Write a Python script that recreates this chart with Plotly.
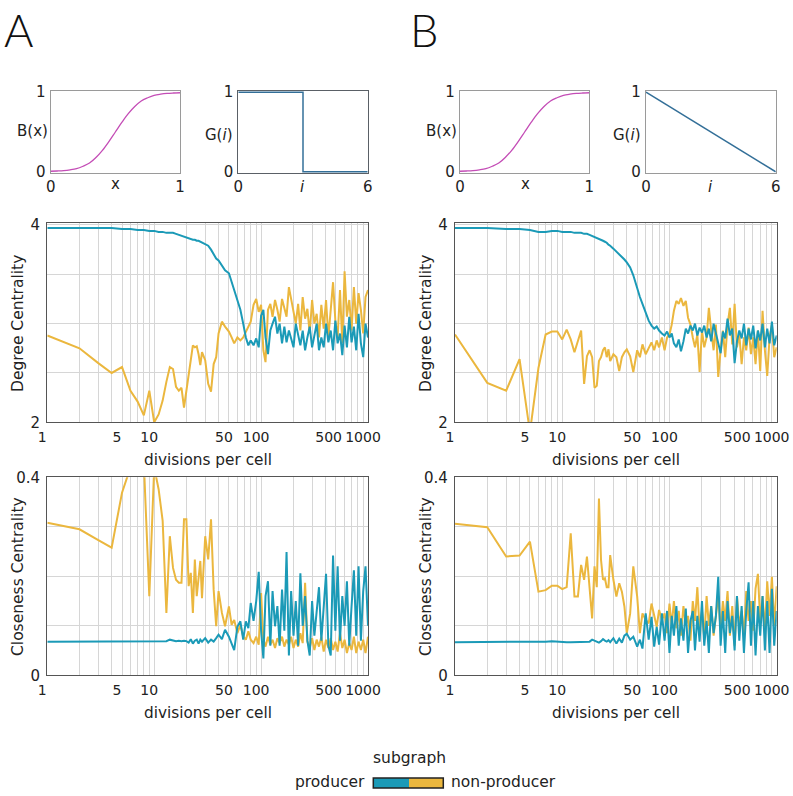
import plotly.graph_objects as go

# ------------------------------------------------------------------ data
divisions = [1, 2, 3, 4, 5, 6, 7, 8, 9, 10,
             11, 12, 13, 14, 15, 16, 17, 18, 19, 20,
             21, 22, 23, 24, 25, 26, 27, 28, 30, 32,
             34, 36, 38, 40, 43, 46, 50, 53, 56, 60,
             64, 68, 72, 76, 80, 85, 90, 95, 100, 105,
             110, 116, 122, 128, 135, 142, 149, 157, 165, 173,
             182, 191, 201, 211, 222, 233, 245, 258, 271, 285,
             300, 315, 331, 348, 366, 385, 405, 426, 448, 471,
             495, 520, 547, 575, 604, 635, 668, 702, 738, 776,
             816, 858, 902, 948, 1000]

# Panel A - degree centrality
degA_producer = [3.97, 3.97, 3.97, 3.97, 3.96, 3.96, 3.95, 3.95, 3.94, 3.94,
                 3.93, 3.93, 3.92, 3.92, 3.92, 3.91, 3.90, 3.89, 3.88, 3.87,
                 3.86, 3.86, 3.85, 3.85, 3.84, 3.84, 3.83, 3.82, 3.81, 3.79,
                 3.75, 3.71, 3.66, 3.64, 3.59, 3.54, 3.51, 3.42, 3.34, 3.22,
                 3.14, 3.00, 2.86, 2.78, 2.83, 2.78, 2.85, 2.76, 3.08, 3.14,
                 2.86, 2.69, 2.93, 3.00, 3.07, 2.90, 3.00, 2.80, 2.97, 2.81,
                 2.93, 2.85, 2.76, 3.00, 2.90, 2.78, 2.93, 2.73, 2.86, 2.97,
                 2.76, 2.90, 3.00, 2.73, 2.86, 2.76, 3.00, 2.81, 2.93, 2.73,
                 3.03, 2.80, 2.90, 2.68, 2.98, 2.76, 3.07, 2.81, 2.97, 2.73,
                 3.10, 2.80, 2.66, 3.00, 2.86]
degA_nonproducer = [2.88, 2.75, 2.60, 2.50, 2.56, 2.32, 2.21, 2.07, 2.32, 2.00,
                    2.08, 2.22, 2.41, 2.56, 2.54, 2.36, 2.32, 2.35, 2.15, 2.32,
                    2.49, 2.66, 2.78, 2.76, 2.77, 2.69, 2.58, 2.71, 2.63, 2.39,
                    2.31, 2.59, 2.66, 2.90, 3.02, 2.97, 2.92, 2.86, 2.80, 2.86,
                    2.83, 2.86, 2.92, 2.97, 3.02, 3.19, 3.25, 3.12, 3.19, 2.73,
                    2.61, 3.14, 3.20, 3.07, 3.24, 3.14, 3.02, 3.25, 3.17, 3.07,
                    3.37, 3.24, 3.10, 3.00, 3.20, 2.93, 3.27, 3.05, 3.15, 2.90,
                    3.24, 3.00, 3.10, 2.86, 3.19, 2.95, 3.24, 2.86, 3.14, 3.42,
                    3.03, 2.86, 3.34, 2.80, 3.53, 3.07, 3.24, 2.93, 3.37, 3.00,
                    3.31, 3.14, 2.90, 3.27, 3.34]

# Panel A - closeness centrality
cloA_producer = [0.068, 0.068, 0.068, 0.068, 0.068, 0.068, 0.068, 0.068, 0.068, 0.068,
                 0.069, 0.068, 0.069, 0.072, 0.070, 0.069, 0.070, 0.069, 0.070, 0.069,
                 0.066, 0.073, 0.064, 0.070, 0.072, 0.064, 0.072, 0.068, 0.075, 0.066,
                 0.072, 0.068, 0.075, 0.082, 0.073, 0.092, 0.078, 0.065, 0.051, 0.098,
                 0.109, 0.072, 0.109, 0.095, 0.146, 0.110, 0.150, 0.209, 0.090, 0.034,
                 0.160, 0.190, 0.060, 0.170, 0.099, 0.140, 0.060, 0.173, 0.090, 0.249,
                 0.040, 0.170, 0.080, 0.150, 0.060, 0.206, 0.100, 0.160, 0.070, 0.040,
                 0.150, 0.080, 0.130, 0.178, 0.070, 0.140, 0.205, 0.060, 0.040, 0.242,
                 0.090, 0.220, 0.070, 0.160, 0.100, 0.190, 0.060, 0.140, 0.212, 0.080,
                 0.220, 0.070, 0.170, 0.220, 0.100]
cloA_nonproducer = [0.308, 0.295, 0.273, 0.258, 0.369, 0.420, 0.450, 0.430, 0.160, 0.420,
                    0.376, 0.312, 0.126, 0.281, 0.217, 0.193, 0.187, 0.187, 0.315, 0.315,
                    0.180, 0.207, 0.126, 0.234, 0.160, 0.193, 0.231, 0.156, 0.281, 0.234,
                    0.315, 0.173, 0.099, 0.170, 0.126, 0.099, 0.139, 0.102, 0.112, 0.085,
                    0.102, 0.078, 0.072, 0.089, 0.072, 0.065, 0.078, 0.062, 0.166, 0.072,
                    0.058, 0.078, 0.062, 0.072, 0.055, 0.075, 0.065, 0.078, 0.058, 0.072,
                    0.062, 0.078, 0.055, 0.072, 0.058, 0.085, 0.065, 0.187, 0.068, 0.055,
                    0.075, 0.051, 0.072, 0.058, 0.078, 0.048, 0.072, 0.055, 0.075, 0.051,
                    0.068, 0.048, 0.085, 0.055, 0.072, 0.045, 0.065, 0.051, 0.078, 0.045,
                    0.068, 0.051, 0.072, 0.045, 0.078]

# Panel B - degree centrality
degB_producer = [3.97, 3.97, 3.96, 3.96, 3.95, 3.93, 3.93, 3.94, 3.94, 3.93,
                 3.93, 3.93, 3.92, 3.92, 3.92, 3.91, 3.91, 3.90, 3.89, 3.88,
                 3.87, 3.86, 3.85, 3.84, 3.83, 3.82, 3.80, 3.79, 3.76, 3.73,
                 3.71, 3.68, 3.65, 3.62, 3.57, 3.49, 3.35, 3.27, 3.20, 3.10,
                 3.03, 2.98, 2.95, 2.97, 2.93, 2.90, 2.88, 2.92, 2.86, 2.90,
                 2.80, 2.76, 2.84, 2.72, 2.82, 2.95, 2.90, 2.98, 2.93, 3.00,
                 2.88, 2.96, 2.91, 2.98, 2.86, 2.95, 2.82, 3.00, 2.90, 2.78,
                 2.70, 2.92, 2.85, 3.05, 2.88, 2.95, 2.60, 2.82, 2.93, 2.85,
                 3.00, 2.78, 2.95, 2.84, 2.98, 2.75, 2.93, 2.83, 3.00, 2.76,
                 2.95, 2.80, 3.02, 2.78, 2.88]
degB_nonproducer = [2.89, 2.40, 2.32, 2.64, 1.90, 2.55, 2.89, 2.92, 2.92, 2.84,
                    2.94, 2.84, 2.71, 2.83, 2.93, 2.39, 2.67, 2.73, 2.66, 2.35,
                    2.37, 2.62, 2.66, 2.73, 2.76, 2.66, 2.74, 2.62, 2.69, 2.66,
                    2.52, 2.66, 2.71, 2.74, 2.67, 2.51, 2.73, 2.66, 2.79, 2.69,
                    2.76, 2.81, 2.73, 2.83, 2.76, 2.86, 2.73, 2.86, 2.89, 2.99,
                    3.13, 3.23, 3.20, 3.26, 3.18, 3.23, 3.06, 2.99, 2.86, 2.76,
                    2.89, 2.51, 2.93, 2.76, 2.86, 3.16, 2.93, 2.73, 2.99, 2.46,
                    2.73, 2.93, 2.66, 2.99, 3.16, 2.79, 3.20, 2.76, 2.89, 2.59,
                    2.86, 2.73, 2.96, 2.69, 2.86, 2.59, 2.93, 2.52, 3.13, 2.73,
                    2.47, 2.86, 2.99, 2.66, 2.76]

# Panel B - closeness centrality
cloB_producer = [0.067, 0.067, 0.067, 0.067, 0.067, 0.067, 0.068, 0.069, 0.068, 0.067,
                 0.067, 0.067, 0.067, 0.067, 0.067, 0.067, 0.067, 0.068, 0.072, 0.070,
                 0.067, 0.066, 0.069, 0.073, 0.070, 0.068, 0.071, 0.067, 0.075, 0.064,
                 0.074, 0.066, 0.080, 0.084, 0.072, 0.078, 0.058, 0.072, 0.054, 0.125,
                 0.072, 0.118, 0.058, 0.098, 0.062, 0.125, 0.070, 0.130, 0.045, 0.120,
                 0.080, 0.140, 0.060, 0.115, 0.070, 0.135, 0.045, 0.110, 0.130, 0.050,
                 0.120, 0.068, 0.150, 0.060, 0.110, 0.045, 0.140, 0.085, 0.120, 0.199,
                 0.060, 0.130, 0.045, 0.150, 0.085, 0.120, 0.050, 0.160, 0.070, 0.140,
                 0.045, 0.130, 0.188, 0.060, 0.150, 0.040, 0.140, 0.080, 0.160, 0.050,
                 0.150, 0.045, 0.175, 0.060, 0.130]
cloB_nonproducer = [0.306, 0.299, 0.240, 0.242, 0.270, 0.169, 0.172, 0.181, 0.181, 0.174,
                    0.178, 0.287, 0.159, 0.159, 0.223, 0.193, 0.240, 0.169, 0.115, 0.220,
                    0.178, 0.357, 0.233, 0.193, 0.196, 0.178, 0.178, 0.243, 0.193, 0.159,
                    0.186, 0.169, 0.139, 0.085, 0.125, 0.220, 0.159, 0.085, 0.125, 0.112,
                    0.105, 0.145, 0.118, 0.098, 0.132, 0.112, 0.125, 0.085, 0.145, 0.100,
                    0.150, 0.095, 0.130, 0.080, 0.140, 0.100, 0.120, 0.070, 0.150, 0.110,
                    0.178, 0.090, 0.130, 0.075, 0.160, 0.100, 0.140, 0.080, 0.120, 0.160,
                    0.090, 0.150, 0.110, 0.170, 0.080, 0.140, 0.060, 0.160, 0.100, 0.130,
                    0.080, 0.170, 0.110, 0.150, 0.090, 0.175, 0.205, 0.110, 0.160, 0.090,
                    0.190, 0.120, 0.199, 0.100, 0.180]

# Benefit function B(x)
benefit_x = [0.0, 0.05, 0.1, 0.15, 0.2, 0.25, 0.3, 0.35, 0.4, 0.45, 0.5,
             0.55, 0.6, 0.65, 0.7, 0.75, 0.8, 0.85, 0.9, 0.95, 1.0]
benefit_y = [0.007, 0.010, 0.015, 0.025, 0.040, 0.070, 0.110, 0.180, 0.270, 0.380, 0.500,
             0.620, 0.730, 0.820, 0.890, 0.930, 0.960, 0.975, 0.985, 0.990, 0.993]

# Goods function G(i)
goodsA_i = [0, 3, 3, 6]
goodsA_g = [1, 1, 0, 0]
goodsB_i = [0, 6]
goodsB_g = [1, 0]

# axis ticks
grid_vals = [1, 2, 3, 4, 5, 6, 7, 8, 9,
             10, 20, 30, 40, 50, 60, 70, 80, 90,
             100, 200, 300, 400, 500, 600, 700, 800, 900, 1000]
labelled = {1: "1", 5: "5", 10: "10", 50: "50", 100: "100", 500: "500\u00a0", 1000: "1000"}
grid_text = [labelled.get(v, "") for v in grid_vals]

# ------------------------------------------------------------------ style
W, H = 793, 796
BLUE = "#1b9ab7"
YELLOW = "#ebb73e"
MAGENTA = "#c44db6"
GBLUE = "#336f98"
GRID = "#d6d6d6"
FRAME = "#555555"
FONT = "DejaVu Sans"
TXT = "#222222"


def xd(l, r):
    return [l / W, r / W]


def yd(t, b):
    return [1 - b / H, 1 - t / H]


fig = go.Figure()

# small plots
fig.add_trace(go.Scatter(x=benefit_x, y=benefit_y, mode="lines", line=dict(color=MAGENTA, width=1.3, shape="spline"),
                         xaxis="x", yaxis="y", showlegend=False))
fig.add_trace(go.Scatter(x=goodsA_i, y=goodsA_g, mode="lines", line=dict(color=GBLUE, width=1.5),
                         xaxis="x2", yaxis="y2", showlegend=False))
fig.add_trace(go.Scatter(x=benefit_x, y=benefit_y, mode="lines", line=dict(color=MAGENTA, width=1.3, shape="spline"),
                         xaxis="x3", yaxis="y3", showlegend=False))
fig.add_trace(go.Scatter(x=goodsB_i, y=goodsB_g, mode="lines", line=dict(color=GBLUE, width=1.5),
                         xaxis="x4", yaxis="y4", showlegend=False))

# main plots: (x axis, y axis, producer, nonproducer)
panels = [("x5", "y5", degA_producer, degA_nonproducer),
          ("x6", "y6", cloA_producer, cloA_nonproducer),
          ("x7", "y7", degB_producer, degB_nonproducer),
          ("x8", "y8", cloB_producer, cloB_nonproducer)]
for xa, ya, prod, nonprod in panels:
    fig.add_trace(go.Scatter(x=divisions, y=nonprod, mode="lines", line=dict(color=YELLOW, width=2),
                             xaxis=xa, yaxis=ya, showlegend=False, name="non-producer"))
    fig.add_trace(go.Scatter(x=divisions, y=prod, mode="lines", line=dict(color=BLUE, width=2),
                             xaxis=xa, yaxis=ya, showlegend=False, name="producer"))


def small_x(dom, anchor, rng, vals, frame):
    return dict(domain=dom, anchor=anchor, range=rng, tickvals=vals, ticktext=[str(v) for v in vals],
                showgrid=False, zeroline=False, showline=True, mirror=True, linecolor=frame, linewidth=1.2,
                ticks="", tickangle=0, automargin=False,
                tickfont=dict(family=FONT, size=15, color=TXT), ticklabelstandoff=0)


def small_y(dom, anchor, frame):
    return dict(domain=dom, anchor=anchor, range=[-0.015, 1.015], tickvals=[0, 1], ticktext=["0", "1"],
                showgrid=False, zeroline=False, showline=True, mirror=True, linecolor=frame, linewidth=1.2,
                ticks="", automargin=False,
                tickfont=dict(family=FONT, size=15, color=TXT), ticklabelstandoff=1)


def main_x(dom, anchor):
    return dict(domain=dom, anchor=anchor, type="log", range=[0, 3], tickvals=grid_vals, ticktext=grid_text,
                showgrid=True, gridcolor=GRID, gridwidth=1, zeroline=False, showline=True, mirror=True,
                linecolor=FRAME, linewidth=1.3, ticks="", tickangle=0, automargin=False,
                tickfont=dict(family=FONT, size=14, color=TXT),
                ticklabelshift=-5, ticklabelstandoff=2)


def main_y(dom, anchor, rng, vals, text):
    return dict(domain=dom, anchor=anchor, range=rng, tickvals=vals, ticktext=text,
                showgrid=True, gridcolor=GRID, gridwidth=1, zeroline=False, showline=True, mirror=True,
                linecolor=FRAME, linewidth=1.3, ticks="", automargin=False,
                tickfont=dict(family=FONT, size=15, color=TXT), ticklabelstandoff=3)


small_top, small_bot = 91, 173
degT, degB = 223, 422.3
cloT, cloB = 477.3, 675.3
Al, Ar = 47.3, 368
Bl, Br = 455, 776.7

deg_vals = [2, 2.5, 3, 3.5, 4]
deg_text = ["2", "", "", "", "4"]
clo_vals = [0, 0.1, 0.2, 0.3, 0.4]
clo_text = ["0", "", "", "", "0.4"]

fig.update_layout(
    width=W, height=H, autosize=False, margin=dict(l=0, r=0, t=0, b=0, pad=0, autoexpand=False),
    paper_bgcolor="white", plot_bgcolor="white", showlegend=False,
    font=dict(family=FONT, color=TXT),
    xaxis=small_x(xd(50.7, 180), "y", [0, 1], [0, 1], "#9a9a9a"),
    yaxis=small_y(yd(small_top, small_bot), "x", "#9a9a9a"),
    xaxis2=small_x(xd(238.3, 367.7), "y2", [0, 6], [0, 6], "#5a6066"),
    yaxis2=small_y(yd(small_top, small_bot), "x2", "#5a6066"),
    xaxis3=small_x(xd(460, 589.3), "y3", [0, 1], [0, 1], "#9a9a9a"),
    yaxis3=small_y(yd(small_top, small_bot), "x3", "#9a9a9a"),
    xaxis4=small_x(xd(646, 775.7), "y4", [0, 6], [0, 6], "#9a9a9a"),
    yaxis4=small_y(yd(small_top, small_bot), "x4", "#9a9a9a"),
    xaxis5=main_x(xd(Al, Ar), "y5"),
    yaxis5=main_y(yd(degT, degB), "x5", [2, 4.02], deg_vals, deg_text),
    xaxis6=main_x(xd(Al, Ar), "y6"),
    yaxis6=main_y(yd(cloT, cloB), "x6", [0, 0.4], clo_vals, clo_text),
    xaxis7=main_x(xd(Bl, Br), "y7"),
    yaxis7=main_y(yd(degT, degB), "x7", [2, 4.02], deg_vals, deg_text),
    xaxis8=main_x(xd(Bl, Br), "y8"),
    yaxis8=main_y(yd(cloT, cloB), "x8", [0, 0.4], clo_vals, clo_text),
)


def note(text, px, py, size=15, angle=0, xanchor="center", yanchor="middle", **kw):
    fig.add_annotation(text=text, x=px / W, y=1 - py / H, xref="paper", yref="paper", showarrow=False,
                       xanchor=xanchor, yanchor=yanchor, textangle=angle, borderpad=0,
                       font=dict(family=kw.get("family", FONT), size=size, color=kw.get("color", TXT),
                                 weight=kw.get("weight", "normal")))


# panel letters (kept fully inside the page)
note("A", 3, 58, size=45, family="Lato", weight=300, color="#111111", xanchor="left", yanchor="bottom")
note("B", 409, 58, size=45, family="Lato", weight=300, color="#111111", xanchor="left", yanchor="bottom")

# small plot labels
note("B(x)", 32, 131.5, size=15)
note("G(<i>i</i>)", 219, 135, size=15)
note("x", 115.3, 183.5, size=15)
note("<i>i</i>", 302.7, 186.5, size=15)
note("B(x)", 441, 131.5, size=15)
note("G(<i>i</i>)", 627, 135, size=15)
note("x", 525, 183.5, size=15)
note("<i>i</i>", 710, 186.5, size=15)

# main axis titles
for cx in [(Al + Ar) / 2, (Bl + Br) / 2]:
    note("divisions per cell", cx, 460, size=15.3)
    note("divisions per cell", cx, 713, size=15.3)
note("Degree Centrality", 18, 324, size=15.5, angle=-90)
note("Closeness Centrality", 18, 577, size=15.5, angle=-90)
note("Degree Centrality", 426, 324, size=15.5, angle=-90)
note("Closeness Centrality", 426, 577, size=15.5, angle=-90)

# legend
note("subgraph", 409, 758, size=15.5)
note("producer", 366, 782, size=15.5, xanchor="right")
note("non-producer", 450, 782, size=15.5, xanchor="left")


def prect(x0, y0, x1, y1, **kw):
    fig.add_shape(type="rect", xref="paper", yref="paper", x0=x0 / W, x1=x1 / W,
                  y0=1 - y1 / H, y1=1 - y0 / H, **kw)


prect(373.3, 778, 409, 788, fillcolor=BLUE, line=dict(width=0))
prect(409, 778, 443.3, 788, fillcolor=YELLOW, line=dict(width=0))
prect(373.3, 778, 443.3, 788, line=dict(color="#222222", width=1.5))

fig.write_html("out.html", config={"displayModeBar": False},
               post_script="document.body.style.margin='0';document.body.style.overflow='hidden';")
